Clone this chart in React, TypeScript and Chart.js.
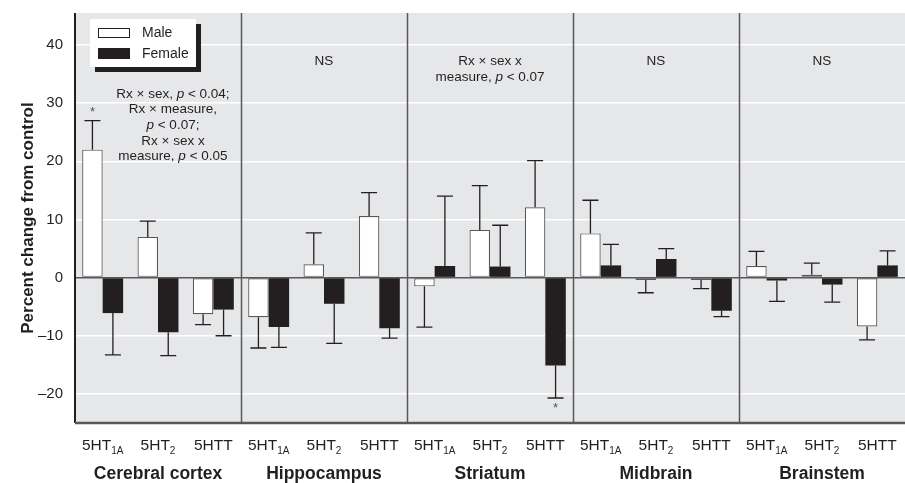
import { useEffect, useRef } from "react";
import { Chart, registerables } from "chart.js";

Chart.register(...registerables);

// ---------- data ----------
const regions = ["Cerebral cortex", "Hippocampus", "Striatum", "Midbrain", "Brainstem"];
const measureNames = ["5HT", "5HT", "5HTT"];
const measureSubs = ["1A", "2", ""];
const categories = regions.flatMap((r) => measureNames.map((m, i) => `${r} ${m}${measureSubs[i]}`));

const maleValues = [22, 7.0, -6.3, -6.8, 2.3, 10.6, -1.5, 8.2, 12.1, 7.6, -0.4, -0.4, 2.0, 0.5, -8.4];
const maleErrorEnds = [27, 9.7, -8.1, -12.1, 7.7, 14.6, -8.5, 15.8, 20.1, 13.3, -2.6, -1.9, 4.5, 2.5, -10.7];
const femaleValues = [-6.1, -9.4, -5.5, -8.5, -4.5, -8.7, 2.0, 1.9, -15.1, 2.1, 3.2, -5.7, -0.5, -1.2, 2.1];
const femaleErrorEnds = [-13.3, -13.4, -10.0, -12.0, -11.3, -10.4, 14.0, 9.0, -20.7, 5.7, 5.0, -6.7, -4.1, -4.2, 4.6];

const yTicks = [-20, -10, 0, 10, 20, 30, 40];
const yMin = -25;
const yMax = 45.5;

// annotation texts: _x_ marks italic
const cortexNote = ["Rx × sex, _p_ < 0.04;", "Rx × measure,", "_p_ < 0.07;", "Rx × sex x", "measure, _p_ < 0.05"];
const striatumNote = ["Rx × sex x", "measure, _p_ < 0.07"];
const nsNote = ["NS"];
// [category index (fractional), y value of first line, lines]
const notes: [number, number, string[]][] = [
  [1.27, 31.6, cortexNote],
  [4, 37.2, nsNote],
  [7, 37.2, striatumNote],
  [10, 37.2, nsNote],
  [13, 37.2, nsNote],
];
// significance asterisks: [dataset index, category index, y value]
const asterisks: [number, number, number][] = [
  [0, 0, 29.0],
  [1, 8, -22.0],
];

const legendLabels = ["Male", "Female"];
const yTitle = "Percent change from control";

// ---------- styles ----------
const FONT = '"Liberation Sans", Arial, sans-serif';
const INK = "#231f20";
const BG = "#e6e7e8";
const LINE = "#58585a";

function drawRich(ctx: CanvasRenderingContext2D, text: string, cx: number, cy: number, size: number) {
  const parts = text.split("_");
  const fonts = parts.map((_, i) => (i % 2 === 1 ? `italic ${size}px ${FONT}` : `${size}px ${FONT}`));
  let total = 0;
  const widths = parts.map((p, i) => {
    ctx.font = fonts[i];
    const w = ctx.measureText(p).width;
    total += w;
    return w;
  });
  let x = cx - total / 2;
  ctx.textAlign = "left";
  ctx.textBaseline = "middle";
  parts.forEach((p, i) => {
    ctx.font = fonts[i];
    ctx.fillText(p, x, cy);
    x += widths[i];
  });
}

const decor = {
  id: "decor",
  beforeDraw(chart: any) {
    const { ctx, chartArea: a } = chart;
    ctx.save();
    ctx.fillStyle = BG;
    ctx.fillRect(a.left, a.top, a.right - a.left, a.bottom - a.top);
    ctx.restore();
  },
  beforeDatasetsDraw(chart: any) {
    const { ctx, chartArea: a, scales } = chart;
    const x = scales.x;
    ctx.save();
    ctx.strokeStyle = LINE;
    ctx.lineWidth = 1.5;
    for (let g = 1; g < regions.length; g++) {
      const px = Math.round(x.getPixelForValue(g * 3 - 0.5)) + 0.5;
      ctx.beginPath();
      ctx.moveTo(px, a.top);
      ctx.lineTo(px, a.bottom);
      ctx.stroke();
    }
    ctx.restore();
  },
  afterDatasetsDraw(chart: any) {
    const { ctx, chartArea: a, scales } = chart;
    const x = scales.x;
    const y = scales.y;
    ctx.save();
    // error bars
    const errs = [maleErrorEnds, femaleErrorEnds];
    const vals = [maleValues, femaleValues];
    ctx.strokeStyle = INK;
    ctx.lineWidth = 1.3;
    errs.forEach((arr, di) => {
      const meta = chart.getDatasetMeta(di);
      arr.forEach((e, i) => {
        const bx = meta.data[i].x;
        const y0 = y.getPixelForValue(vals[di][i]);
        const y1 = y.getPixelForValue(e);
        ctx.beginPath();
        ctx.moveTo(bx, y0);
        ctx.lineTo(bx, y1);
        ctx.moveTo(bx - 8, y1);
        ctx.lineTo(bx + 8, y1);
        ctx.stroke();
      });
    });
    // asterisks
    ctx.fillStyle = "#555";
    ctx.font = `13px ${FONT}`;
    ctx.textAlign = "center";
    ctx.textBaseline = "middle";
    asterisks.forEach(([di, i, v]) => {
      const meta = chart.getDatasetMeta(di);
      ctx.fillText("*", meta.data[i].x, y.getPixelForValue(v) + 3);
    });
    // borders
    ctx.strokeStyle = INK;
    ctx.lineWidth = 2;
    ctx.beginPath();
    ctx.moveTo(a.left, a.top);
    ctx.lineTo(a.left, a.bottom);
    ctx.stroke();
    ctx.strokeStyle = LINE;
    ctx.lineWidth = 2.5;
    ctx.beginPath();
    ctx.moveTo(a.left, a.bottom);
    ctx.lineTo(a.right, a.bottom);
    ctx.stroke();

    // notes
    ctx.fillStyle = INK;
    notes.forEach(([ci, v, lines]) => {
      const cx = x.getPixelForValue(ci);
      const cy = y.getPixelForValue(v);
      lines.forEach((ln, k) => drawRich(ctx, ln, cx, cy + k * 15.7, 13.5));
    });

    // legend
    const lx = a.left + 15;
    const ly = a.top + 6;
    ctx.fillStyle = INK;
    ctx.fillRect(lx + 5, ly + 5, 106, 48);
    ctx.fillStyle = "#ffffff";
    ctx.fillRect(lx, ly, 106, 48);
    ctx.fillStyle = "#ffffff";
    ctx.strokeStyle = INK;
    ctx.lineWidth = 1;
    ctx.fillRect(lx + 8, ly + 9, 32, 10);
    ctx.strokeRect(lx + 8.5, ly + 9.5, 31, 9);
    ctx.fillStyle = INK;
    ctx.fillRect(lx + 8, ly + 29, 32, 11);
    ctx.font = `14px ${FONT}`;
    ctx.textAlign = "left";
    ctx.textBaseline = "middle";
    ctx.fillText(legendLabels[0], lx + 52, ly + 14);
    ctx.fillText(legendLabels[1], lx + 52, ly + 35);

    // x tick labels with subscripts
    regions.forEach((r, g) => {
      measureNames.forEach((m, k) => {
        const idx = g * 3 + k;
        const cx = x.getPixelForValue(idx);
        const sub = measureSubs[k];
        ctx.font = `15.5px ${FONT}`;
        const w1 = ctx.measureText(m).width;
        ctx.font = `10px ${FONT}`;
        const w2 = sub ? ctx.measureText(sub).width : 0;
        const sx = cx - (w1 + w2) / 2;
        ctx.textBaseline = "alphabetic";
        ctx.font = `15.5px ${FONT}`;
        ctx.fillText(m, sx, a.bottom + 27);
        if (sub) {
          ctx.font = `10px ${FONT}`;
          ctx.fillText(sub, sx + w1, a.bottom + 31);
        }
      });
      ctx.font = `bold 17.5px ${FONT}`;
      ctx.textAlign = "center";
      ctx.fillText(r, x.getPixelForValue(g * 3 + 1), a.bottom + 56);
      ctx.textAlign = "left";
    });

    // y title
    ctx.save();
    ctx.translate(28, (a.top + a.bottom) / 2);
    ctx.rotate(-Math.PI / 2);
    ctx.font = `bold 17px ${FONT}`;
    ctx.textAlign = "center";
    ctx.textBaseline = "middle";
    ctx.fillText(yTitle, 0, 0);
    ctx.restore();

    ctx.restore();
  },
};

export default function App() {
  const ref = useRef<HTMLCanvasElement | null>(null);
  useEffect(() => {
    document.body.style.margin = "0";
    const canvas = ref.current!;
    const chart = new Chart(canvas, {
      type: "bar",
      data: {
        labels: categories,
        datasets: [
          {
            label: legendLabels[0],
            data: maleValues,
            backgroundColor: "#ffffff",
            borderColor: LINE,
            borderWidth: 1.2,
            borderSkipped: false,
            categoryPercentage: 0.74,
            barPercentage: 1,
          },
          {
            label: legendLabels[1],
            data: femaleValues,
            backgroundColor: INK,
            borderWidth: 0,
            categoryPercentage: 0.74,
            barPercentage: 1,
          },
        ],
      },
      options: {
        responsive: false,
        animation: false,
        layout: { padding: { top: 13, right: 0, left: 0, bottom: 0 } },
        plugins: { legend: { display: false }, tooltip: { enabled: false }, title: { display: false } },
        scales: {
          x: {
            grid: { display: false },
            border: { display: false },
            ticks: { display: false },
            afterFit: (s: any) => {
              s.height = 60;
              s.paddingLeft = 0;
              s.paddingRight = 0;
            },
          },
          y: {
            min: yMin,
            max: yMax,
            afterBuildTicks: (s: any) => {
              s.ticks = yTicks.map((v) => ({ value: v }));
            },
            grid: {
              drawTicks: false,
              color: (c: any) => (c.tick && c.tick.value === 0 ? LINE : "#ffffff"),
              lineWidth: 1.5,
            },
            border: { display: false },
            ticks: {
              padding: 12,
              color: INK,
              font: { family: FONT, size: 15 },
              callback: (v: any) => (v < 0 ? "–" + Math.abs(v) : String(v)),
            },
            afterFit: (s: any) => {
              s.width = 75;
              s.paddingTop = 0;
              s.paddingBottom = 0;
            },
          },
        },
      },
      plugins: [decor],
    });
    return () => chart.destroy();
  }, []);
  return (
    <div style={{ width: 905, height: 483 }}>
      <canvas ref={ref} width={905} height={483} />
    </div>
  );
}
